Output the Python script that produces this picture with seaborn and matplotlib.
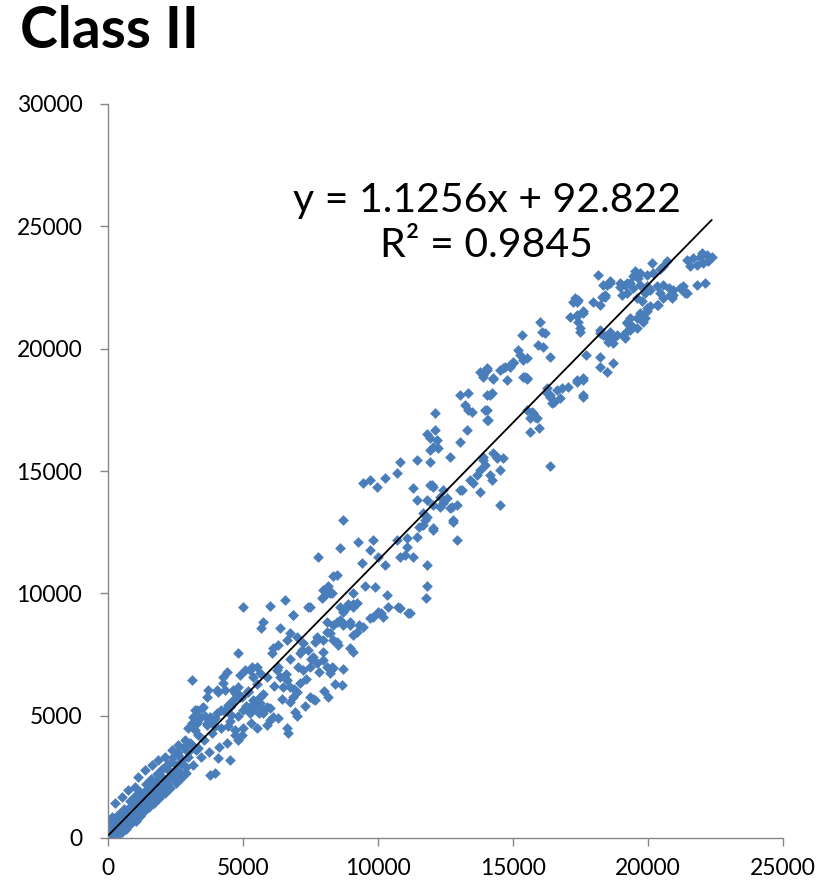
import matplotlib
matplotlib.use("Agg")
import matplotlib.pyplot as plt
import seaborn as sns
import numpy as np
import pandas as pd

# ---------------- data ----------------
x_low = [50,100,150,200,250,300,350,400,450,500,550,600,650,700,750,800,850,900,950,1000,
         1050,1100,1150,1200,1250,1300,1350,1400,1450,1500,1550,1600,1650,1700,1750,1800,1850,1900,1950,2000,
         80,120,200,260,330,380,450,520,580,640,700,780,850,900,980,1050,1100,1180,1250,1300,
         1380,1450,1520,1600,1680,1750,1820,1900,1980,2050,2120,2200,2280,2350,2420,2500,2580,2650,2730,2800,2880,2950]
y_low = [100,400,50,300,600,150,800,450,250,700,1000,500,350,900,1200,600,1100,800,1400,1000,
         700,1500,1300,900,1700,1400,1100,1900,1600,1300,2000,1800,1500,2200,1900,1600,2400,2100,1800,2500,
         300,700,150,500,900,250,600,350,800,1100,550,900,1300,650,1200,1500,900,1400,1100,1700,
         1300,2000,1600,1900,2300,1700,2100,2600,2000,2400,2900,2200,2700,3100,2500,3000,3400,2700,3200,3700,2900,3500]

x_fill = [200,400,600,800,1000,1200,1400,1600,1800,2000,2200,2400,2600,2800,
          300,500,700,900,1100,1300,1500,1700,1900,2100,2300,2500,2700,2900]
y_fill = [700,1000,1200,1500,1700,1900,2200,2400,2600,2800,3000,3300,3500,3700,
          50,250,450,650,850,1050,1250,1450,1650,1850,2050,2250,2450,2650]

x_band = [3720,4090,4330,4700,4950,5200,5450,5700,5630,5010,5260,
          3220,3470,3590,3340,3100,2970,3220,3840,3960,4200,4450,4570,4450,4700,4950,4820,4520,4080,3780,3960,
          2850,2600,2360,2110,1860,1620,1370,1120,1000,750,510,260,30,140,60,
          3100,3340,2970,2720,2480,2600,2230,1990,1740,1490,1250,1000,750,510,380]
y_band = [6050,5980,6050,5910,5770,5980,5500,5230,5770,5230,5090,
          5230,5300,4970,4840,4700,4500,4410,4770,4560,5230,5450,5020,4560,4410,4210,4000,3190,3260,2570,2640,
          4000,3800,3600,3320,3190,2980,2780,2500,2090,1960,1690,1420,700,870,450,
          3800,3670,3320,3050,2780,2570,2370,2090,1960,1690,1420,1210,1000,740,460]

x_mid = [3050,3150,3250,3350,3450,3550,3650,3750,3850,3950,4100,4200,4300,4400,4500,4600,4700,4800,4900,5000,
         5100,5200,5300,5400,5500,5600,5750,5900,6000,6150,6300,6450,6600,6750,6900,7050,7200,7350,7500,7650,
         7800,7950,8100,8300,8500,8700,
         5500,5900,6300,7000,7300,7600,8000,8400,8700,9300,9700,10100,10800,11200]
y_mid = [3900,3000,3600,4200,3300,4000,4600,3500,4300,4900,3700,4500,5200,3900,4800,5500,4200,5000,5800,4500,
         5400,6000,4700,5600,6300,5100,5900,6600,5300,6200,7000,5700,6700,7300,6100,7000,7700,6500,7300,8000,
         6800,7600,8400,7000,7900,8700,
         4500,4600,4900,5000,5400,5700,6000,6300,6900,8700,9000,9200,9400,9200]

x_c = [8470,8150,7960,8220,5000,6000,6560,7410,6850,5740,5670,6370,6740,6630,7000,6110,6300,6070,7220,7410,7110,7590,4815,
       7740,7960,8220,8480,8700,8960,9220,9070,8480,8330,8960,9070,8850,8700,9220,9070,
       5520,5260,5630,5370,
       6250,6370,6620,6490,6740,6990,6860,6740,7110,7220,7480,7730,7960,8100,8330,8220,
       8650,8150,7480,7670,6930,
       4820,4630,4260,4040,4400,4260,5320,5070,3100,4890,
       4770,4890,4630,4520,5630,5510,5740,5880,6000,6110,5370,5260,
       3660,3530,3290,3160,3410,3780,4030,3900,3660,3290,6620,6660]
y_c = [10750,10140,9850,10010,9440,9480,9730,9440,9110,8830,8580,8580,8380,8090,8210,7760,7890,7560,7970,7680,7560,7400,7560,
       8210,8090,8380,8830,8790,8830,8420,8300,8010,8090,7760,7600,9440,9320,9600,9440,
       6990,6870,6740,6580,
       6870,6590,6460,6180,6180,5980,5770,5570,6330,6870,7000,7150,7270,7000,6950,6740,
       6250,5770,5770,5640,5160,
       6180,6050,6330,6050,6800,6590,7000,6870,6460,6660,
       5930,5770,5640,5370,5520,5230,5110,5370,4820,4960,5640,5370,
       5770,5370,5230,4960,4960,4960,5090,4820,4680,4680,4480,4290]

x_d = [10820,11430,11930,9460,9700,9980,10260,10720,
       11310,11930,12050,12420,11430,11800,12050,12300,12540,12670,12910,12790,12910,
       11680,11740,11500,11430,12050,8720,
       9270,9830,9700,10010,8590,7790,
       10690,11060,11060,10820,11000,11310,10260,9400,11800,11800,11780,
       8350,8160,7980,8100,8280,7910,
       9520,9890,9090,8900,9090,8590,8720,10320,10380,10750,10010,9830,10200,11120,
       7480,6860,8100,8350,8590,8960,9460]
y_d = [15380,15450,15380,14500,14630,14360,14730,14900,
       14290,14430,14360,14220,13810,13810,13610,13540,13880,13470,13610,12990,12180,
       13270,13000,12720,12310,12590,13000,
       12110,12200,11770,11500,11840,11500,
       12180,12250,11910,11500,11570,11500,11160,11230,11160,10290,9800,
       10690,10290,10150,10010,10010,9800,
       10300,10240,10010,9580,9580,9450,9240,9930,9450,9450,9240,9040,9040,9180,
       9450,9110,8840,8700,8910,8700,8630]

x_e = [13780,14030,13900,14270,14520,14710,14890,15010,15450,15510,14770,
       13040,13350,14020,14210,13220,13350,13470,14020,14020,12110,
       11800,11930,12110,12170,12050,11930,12240,13280,13040,12670,
       14270,14400,14640,13900,13780,13650,14150,14210,14520,13410,13100,13780,13530,
       15510,15750,15880,15630,15970,16250,16370,16500,16620,16370,14520,
       11990,12300,12730,11800,11680,12050,12790,12420,13040]
y_e = [19060,19200,18850,18800,19130,19270,19340,19470,18850,18800,18720,
       18100,18170,18100,18170,17700,17490,17420,17490,17080,17360,
       16530,16330,16680,16270,15990,15860,15940,16680,16190,15590,
       15720,15590,15520,15450,15040,14840,14840,14630,15040,14630,14220,14150,14490,
       17490,17360,17150,16600,16740,18170,18040,17830,18310,15200,13610,
       14430,13950,13540,13130,12790,12650,12930,13680,14220]

x_f = [18470,18590,18960,19210,19460,19700,19950,19040,19230,19600,19780,19950,19700,19580,19830,19210,19330,19580,19210,
       17240,17420,17970,18220,18410,17110,17360,17600,17420,17480,
       18220,18470,18590,18720,18840,19150,19330,
       17720,18220,18220,18470,18720,
       16000,16060,16190,15320,15940,16120,16370,
       15200,15260,15380,15510,15010,14890,14640,14020,13900,14270,15380,15510,
       14150,13960,14090,
       16800,17050,17360,17600,16250,16370,16430,16740,17600,
       15690,15820,15630,13900,14400,13960]
y_f = [22620,22680,22540,22680,22480,22620,22540,22210,22270,22070,21940,21660,21450,21250,21110,21110,20910,20840,20710,
       21910,21980,21910,21780,22120,21300,21370,21440,21090,20680,
       20630,20490,20350,20220,20560,20430,20760,
       19740,19670,19260,19060,19410,
       21090,20680,20630,20560,20150,20080,19670,
       19940,19740,19540,19610,19410,19260,19200,19130,18920,18780,18850,18780,
       18100,17490,17080,
       18390,18450,18720,18800,18390,18100,17770,17970,18040,
       17420,17220,17150,15590,15520,15240]

x_g = [21430,21680,21930,22170,22360,21560,21800,22050,22240,21990,
       21800,22110,
       20140,20690,20570,20450,20200,19950,19710,19520,19460,19640,19330,19150,18960,18160,
       18590,18350,18410,18290,17360,
       19950,20080,19890,20330,20570,20760,20940,21190,21370,20820,20570,20380,20080,19950,19710,19890,20450,
       19340,19210,19400,19090,18720,18530,18350,18600,18220,17480,17360,17600,17300,
       17600,17360,17600,
       21310,21430,20940,20880,20320]
y_g = [23620,23690,23760,23830,23760,23380,23440,23510,23580,23910,
       22600,22670,
       23510,23580,23380,23240,23100,23030,23100,23170,22960,22890,22680,22610,22680,23010,
       22750,22600,22190,22120,21910,
       22550,22410,22270,22550,22610,22480,22410,22480,22270,22210,22070,21800,21730,21520,21320,21250,22270,
       21250,21050,20910,20570,20430,20290,20570,20700,20770,20840,21320,21520,22070,
       18720,18650,18100,
       22550,22270,22210,22070,21800]

trend_slope = 1.1256
trend_intercept = 92.822
trend_label = "y = 1.1256x + 92.822\nR² = 0.9845"
title_text = "Class II"
x_ticks = [0, 5000, 10000, 15000, 20000, 25000]
y_ticks = [0, 5000, 10000, 15000, 20000, 25000, 30000]

# ---------------- build frame ----------------
xs = x_low + x_fill + x_band + x_mid + x_c + x_d + x_e + x_f + x_g
ys = y_low + y_fill + y_band + y_mid + y_c + y_d + y_e + y_f + y_g
df = pd.DataFrame({"x": xs, "y": ys})

sns.set_style("white")
plt.rcParams['font.family'] = ['Lato', 'DejaVu Sans']

fig = plt.figure(figsize=(8.34, 8.86), dpi=100)
ax = fig.add_axes([108/834, 48/886, (783-108)/834, (838-104)/886])

sns.scatterplot(data=df, x="x", y="y", ax=ax, marker="D", s=30,
                color="#4A7EBB", linewidth=0, legend=False, zorder=2)

lx = np.array([min(xs), max(xs)])
ax.plot(lx, trend_slope * lx + trend_intercept, color="black", lw=1.3, zorder=3)

ax.set_xlim(0, 25000)
ax.set_ylim(0, 30000)
ax.set_xticks(x_ticks)
ax.set_yticks(y_ticks)
ax.set_xticklabels([str(t) for t in x_ticks])
ax.set_yticklabels([str(t) for t in y_ticks])
ax.set_xlabel("")
ax.set_ylabel("")

for side in ["top", "right"]:
    ax.spines[side].set_visible(False)
for side in ["left", "bottom"]:
    ax.spines[side].set_color("#868686")
    ax.spines[side].set_linewidth(1.0)
ax.tick_params(axis="both", which="major", direction="out", length=5.5, width=1.0,
               color="#868686", labelsize=16.5, labelcolor="black")
ax.tick_params(axis="x", bottom=True, pad=9)
ax.tick_params(axis="y", left=True, pad=13)

ax.text(0.561, 0.838, trend_label, transform=ax.transAxes, ha="center", va="center",
        fontsize=29.5, multialignment="center", linespacing=1.25, color="black")

fig.text(20/834, 1 - 31/886, title_text, fontsize=41, fontweight="bold",
         ha="left", va="center", color="black")

fig.savefig("out.png", dpi=100)
